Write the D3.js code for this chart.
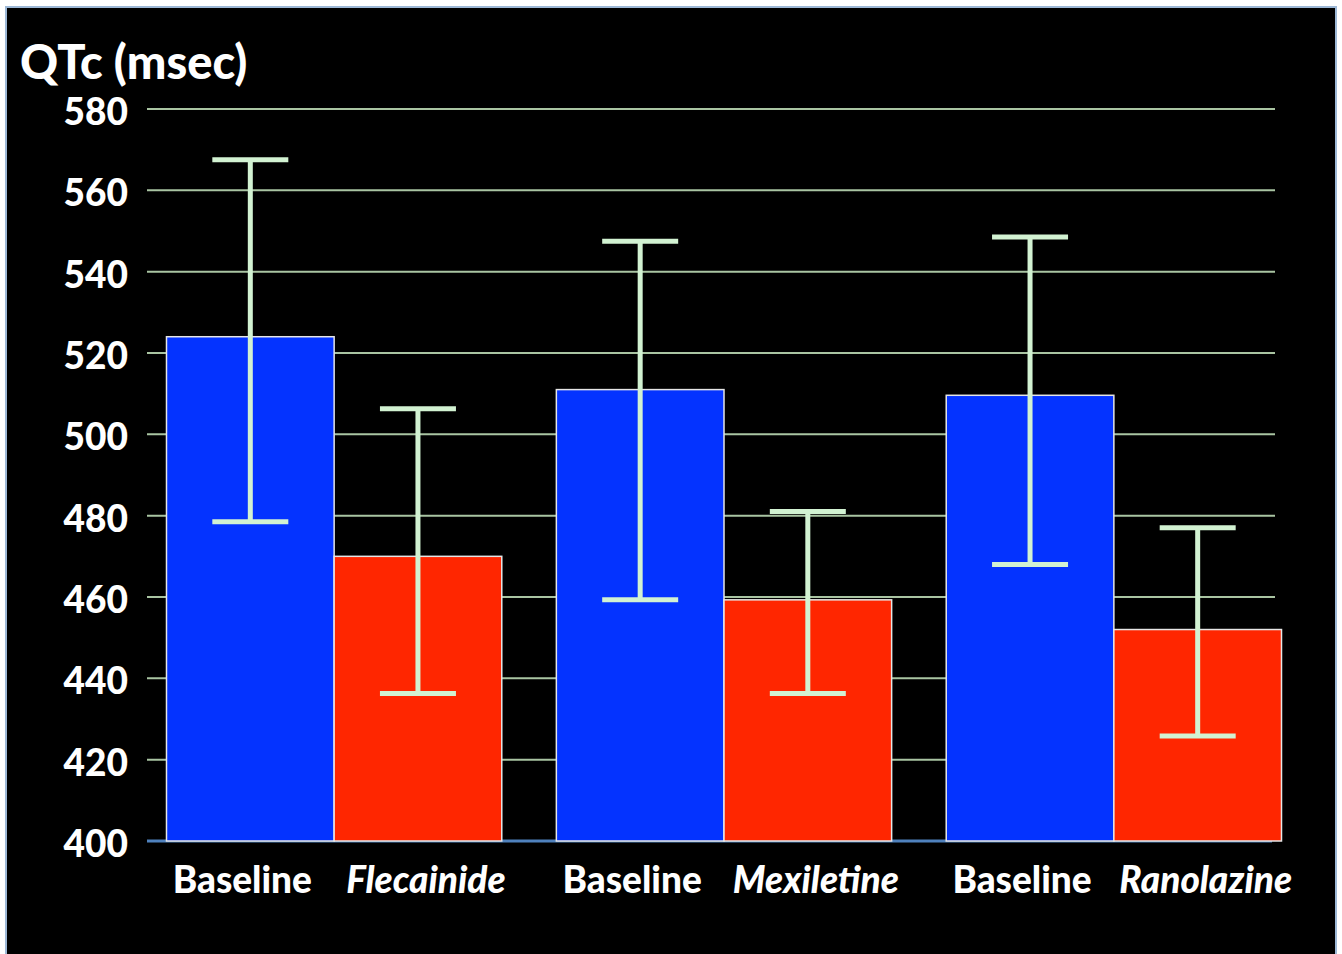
<!DOCTYPE html>
<html>
<head>
<meta charset="utf-8">
<script src="https://cdn.jsdelivr.net/npm/d3@7"></script>
<style>
  html, body { margin: 0; padding: 0; background: #ffffff; }
  svg { display: block; }
</style>
</head>
<body>
<svg id="chart" width="1342" height="954"></svg>
<script>
// ---- data ----
const groups = ["Flecainide", "Mexiletine", "Ranolazine"];
const series = ["Baseline", "Drug"];
const baselineMeans = [524, 511, 509.6];
const drugMeans = [470, 459.3, 452];
const baselineUpper = [567.5, 547.5, 548.5];
const baselineLower = [478.5, 459.3, 468];
const drugUpper = [506.3, 481, 477];
const drugLower = [436.3, 436.3, 425.8];
const yTicks = [400, 420, 440, 460, 480, 500, 520, 540, 560, 580];
const yTitle = "QTc (msec)";

const svg = d3.select("#chart");
const FONT = "Lato, 'Open Sans', sans-serif";

// slide background with border
svg.append("rect").attr("x", 6).attr("y", 7).attr("width", 1330).attr("height", 960)
  .attr("fill", "#000").attr("stroke", "#9db8d6").attr("stroke-width", 2);

const y = d3.scaleLinear().domain([400, 580]).range([841, 109]);
const gridX0 = 147, gridX1 = 1275;

const x0 = d3.scaleBand().domain(groups).range([147, 1301]).paddingInner(0.14).paddingOuter(0.05);
const x1 = d3.scaleBand().domain(series).range([0, x0.bandwidth()]);

// gridlines
svg.append("g").selectAll("line").data(yTicks.filter(t => t > 400)).join("line")
  .attr("x1", gridX0).attr("x2", gridX1)
  .attr("y1", d => y(d)).attr("y2", d => y(d))
  .attr("stroke", "#a9c4a2").attr("stroke-width", 2);

// y axis tick labels
const yAxis = d3.axisLeft(y).tickValues(yTicks).tickSize(0).tickPadding(0);
const yg = svg.append("g").attr("transform", "translate(128,0)").call(yAxis);
yg.select(".domain").remove();
yg.selectAll("text")
  .attr("fill", "#fff")
  .style("font-family", FONT)
  .style("font-weight", "900")
  .style("font-size", "37px")
  .attr("dy", "0.42em");

// title
svg.append("text").attr("x", 20).attr("y", 79).text(yTitle)
  .attr("fill", "#fff")
  .style("font-family", FONT)
  .style("font-weight", "900")
  .style("font-size", "47px");

// baseline axis line
svg.append("line").attr("x1", gridX0).attr("x2", 1272)
  .attr("y1", y(400)).attr("y2", y(400))
  .attr("stroke", "#4f81bd").attr("stroke-width", 3);

// bar data
const bars = [];
groups.forEach((g, i) => {
  bars.push({ g, s: "Baseline", v: baselineMeans[i], hi: baselineUpper[i], lo: baselineLower[i], label: "Baseline", italic: false });
  bars.push({ g, s: "Drug", v: drugMeans[i], hi: drugUpper[i], lo: drugLower[i], label: g, italic: true });
});
const color = { Baseline: "#0433ff", Drug: "#ff2600" };

svg.append("g").selectAll("rect").data(bars).join("rect")
  .attr("x", d => x0(d.g) + x1(d.s))
  .attr("width", x1.bandwidth())
  .attr("y", d => y(d.v))
  .attr("height", d => y(400) - y(d.v))
  .attr("fill", d => color[d.s])
  .attr("stroke", "#e6e6e6").attr("stroke-width", 1.5);

// error bars
const capHalf = 38;
const errG = svg.append("g");
bars.forEach(d => {
  const cx = x0(d.g) + x1(d.s) + x1.bandwidth() / 2;
  const g = errG.append("g");
  g.append("line").attr("x1", cx).attr("x2", cx).attr("y1", y(d.hi)).attr("y2", y(d.lo))
    .attr("stroke", "#d2f2d2").attr("stroke-width", 5);
  [d.hi, d.lo].forEach(v => {
    g.append("line").attr("x1", cx - capHalf).attr("x2", cx + capHalf)
      .attr("y1", y(v)).attr("y2", y(v))
      .attr("stroke", "#d2f2d2").attr("stroke-width", 5);
  });
});

// category labels
svg.append("g").selectAll("text").data(bars).join("text")
  .attr("x", d => x0(d.g) + x1(d.s) + x1.bandwidth() / 2 + (d.italic ? 8 : -8))
  .attr("y", 893)
  .attr("text-anchor", "middle")
  .attr("fill", "#fff")
  .style("font-family", FONT)
  .style("font-weight", "900")
  .style("font-style", d => d.italic ? "italic" : "normal")
  .style("font-size", "37px")
  .text(d => d.label);
</script>
</body>
</html>
